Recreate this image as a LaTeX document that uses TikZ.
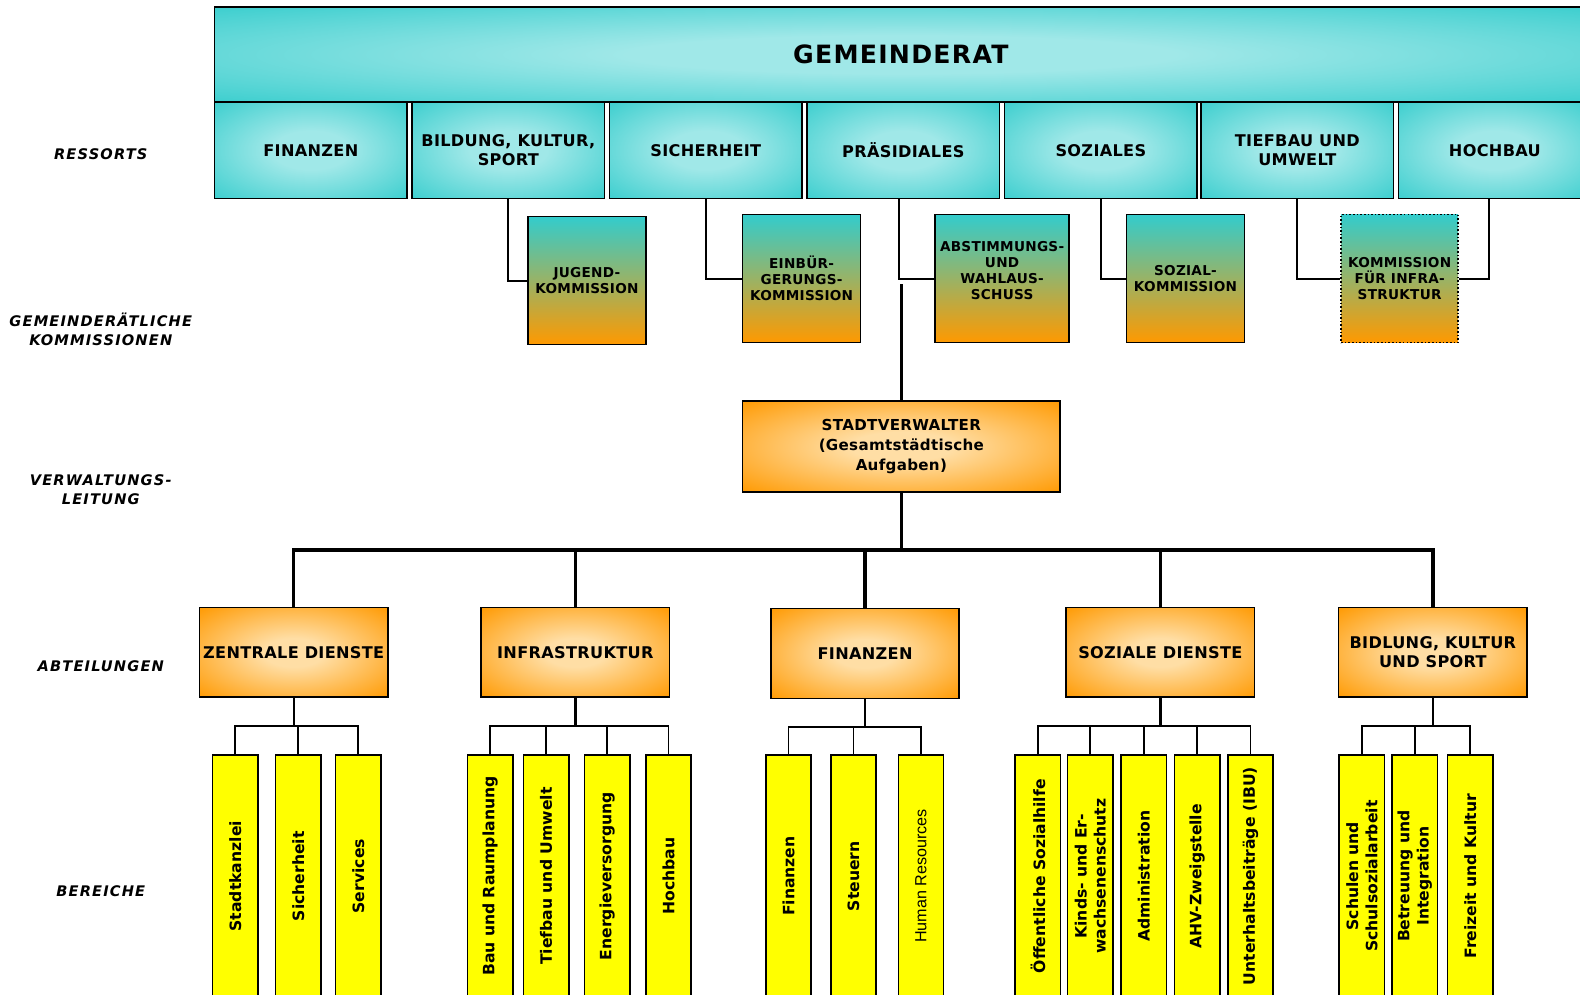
\documentclass[tikz,border=0pt]{standalone}
\usepackage{fontspec}
\setmainfont{Liberation Sans}
\newfontfamily\boxfont[LetterSpace=2]{DejaVu Sans}
\newfontfamily\titlefont[LetterSpace=5]{DejaVu Sans}
\newfontfamily\sidefont[LetterSpace=8]{DejaVu Sans}
\newfontfamily\barfont{DejaVu Sans}
\definecolor{tealbase}{RGB}{51,204,204}
\definecolor{tealhi}{RGB}{160,232,232}
\definecolor{orangebase}{RGB}{255,153,0}
\definecolor{orangehi}{RGB}{255,222,165}
\definecolor{kommmid}{RGB}{182,186,160}
\definecolor{barfill}{RGB}{255,255,0}
\pgfdeclareradialshading{tealglow}{\pgfpointorigin}{color(0bp)=(tealhi); color(10bp)=(tealhi); color(38bp)=(tealbase); color(50bp)=(tealbase)}
\pgfdeclareradialshading{orangeglow}{\pgfpointorigin}{color(0bp)=(orangehi); color(8bp)=(orangehi); color(36bp)=(orangebase); color(50bp)=(orangebase)}
\begin{document}
\begin{tikzpicture}%
	[x=1pt, y=-1pt,
	box/.style={draw=black, line width=1.6pt, align=center, inner sep=2pt},
	gemeinderat/.style={box, shade, shading=tealglow, minimum width=1362pt, minimum height=94pt, font=\titlefont\bfseries\fontsize{25}{30}\selectfont},
	ressort/.style={box, shade, shading=tealglow, minimum width=191pt, minimum height=96pt, font=\boxfont\bfseries\fontsize{16}{19}\selectfont},
	kommission/.style={box, top color=tealbase, middle color=kommmid, bottom color=orangebase, minimum width=117pt, minimum height=127pt, font=\boxfont\bfseries\fontsize{13.5}{16}\selectfont},
	leitung/.style={box, shade, shading=orangeglow, minimum width=315pt, minimum height=90pt, font=\boxfont\bfseries\fontsize{15}{19.5}\selectfont},
	abteilung/.style={box, shade, shading=orangeglow, minimum width=187pt, minimum height=89pt, font=\boxfont\bfseries\fontsize{16}{19}\selectfont},
	bereich/.style={draw=black, line width=1.6pt, fill=barfill, rotate=90, minimum width=241pt, minimum height=45pt, inner sep=1pt, align=center, font=\barfont\bfseries\fontsize{15.5}{19}\selectfont},
	side/.style={align=center, font=\sidefont\bfseries\itshape\fontsize{14.5}{19}\selectfont},
	link/.style={line width=1.8pt},
	trunk/.style={line width=3.5pt},
	stem/.style={line width=2.4pt},
	branch/.style={line width=1.7pt}]
%
\useasboundingbox (0,0) rectangle (1568,987);
%%
%% Drawing the row titles
%%
\node[side] (tres) at (100,153) {RESSORTS};
\node[side] (tkom) at (100,327) {GEMEINDERÄTLICHE\\KOMMISSIONEN};
\node[side] (tvl) at (100,486) {VERWALTUNGS-\\LEITUNG};
\node[side] (tabt) at (100,661) {ABTEILUNGEN};
\node[side] (tber) at (100,884) {BEREICHE};
%%
%% Drawing the Gemeinderat and the Ressorts
%%
\node[gemeinderat] (gr) at (894,54) {GEMEINDERAT};
\node[ressort] (r1) at (308.5,149) {FINANZEN};
\node[ressort] (r2) at (504.5,149) {BILDUNG, KULTUR,\\SPORT};
\node[ressort] (r3) at (700.5,149) {SICHERHEIT};
\node[ressort] (r4) at (896.5,149) {PRÄSIDIALES};
\node[ressort] (r5) at (1092.5,149) {SOZIALES};
\node[ressort] (r6) at (1287.5,149) {TIEFBAU UND\\UMWELT};
\node[ressort] (r7) at (1483.5,149) {HOCHBAU};
%%
%% Drawing the Kommissionen
%%
\node[kommission] (k1) at (582.5,278.5) {JUGEND-\\KOMMISSION};
\node[kommission] (k2) at (795.5,276.5) {EINBÜR-\\GERUNGS-\\KOMMISSION};
\node[kommission, minimum width=133pt] (k3) at (994.5,276.5) {ABSTIMMUNGS-\\UND\\WAHLAUS-\\SCHUSS\\ \mbox{}};
\node[kommission] (k4) at (1176.5,276.5) {SOZIAL-\\KOMMISSION};
\node[kommission, dotted, minimum width=116pt] (k5) at (1389,276.5) {KOMMISSION\\FÜR INFRA-\\STRUKTUR};
%
\draw[link] (r2.south) |- (k1.west);
\draw[link] (r3.south) |- (k2.west);
\draw[link] ([xshift=-4pt]r4.south) |- (k3.west);
\draw[link] (r5.south) |- (k4.west);
\draw[link] (r6.south) |- (k5.west);
\draw[link] ([xshift=-6pt]r7.south) |- (k5.east);
%%
%% Drawing the Verwaltungsleitung
%%
\node[leitung] (sv) at (894.5,443) {STADTVERWALTER\\(Gesamtstädtische\\Aufgaben)};
\draw[trunk] (sv.north) -- ([yshift=-5pt]sv.north |- k3.west);
%%
%% Drawing the Abteilungen
%%
\node[abteilung] (a1) at (291.5,647.5) {ZENTRALE DIENSTE};
\node[abteilung] (a2) at (571,647.5) {INFRASTRUKTUR};
\node[abteilung] (a3) at (858.5,648.5) {FINANZEN};
\node[abteilung] (a4) at (1151.5,647.5) {SOZIALE DIENSTE};
\node[abteilung] (a5) at (1422,647.5) {BIDLUNG, KULTUR\\UND SPORT};
%
\draw[trunk] (sv.south) -- ++(0,57) coordinate (hub);
\draw[trunk] (a1.north) |- (hub) -| (a5.north);
\draw[trunk] (a2.north) -- (a2.north |- hub);
\draw[trunk] (a3.north) -- (a3.north |- hub);
\draw[trunk] (a4.north) -- (a4.north |- hub);
%%
%% Drawing the Bereiche
%%
\node[bereich] (z1) at (233.5,869.5) {Stadtkanzlei};
\node[bereich] (z2) at (296,869.5) {Sicherheit};
\node[bereich] (z3) at (355.5,869.5) {Services};
%
\node[bereich] (i1) at (486.5,869.5) {Bau und Raumplanung};
\node[bereich] (i2) at (542,869.5) {Tiefbau und Umwelt};
\node[bereich] (i3) at (602.5,869.5) {Energieversorgung};
\node[bereich] (i4) at (663.5,869.5) {Hochbau};
%
\node[bereich] (f1) at (782.5,869.5) {Finanzen};
\node[bereich] (f2) at (847,869.5) {Steuern};
\node[bereich, font=\rmfamily\fontsize{16}{19}\selectfont] (f3) at (914,869.5) {Human Resources};
%
\node[bereich] (s1) at (1030,869.5) {Öffentliche Sozialhilfe};
\node[bereich] (s2) at (1082,869.5) {Kinds- und Er-\\wachsenenschutz};
\node[bereich] (s3) at (1135,869.5) {Administration};
\node[bereich] (s4) at (1188,869.5) {AHV-Zweigstelle};
\node[bereich] (s5) at (1241,869.5) {Unterhaltsbeiträge (IBU)};
%
\node[bereich] (b1) at (1351.5,869.5) {Schulen und\\Schulsozialarbeit};
\node[bereich] (b2) at (1404,869.5) {Betreuung und\\Integration};
\node[bereich] (b3) at (1459,869.5) {Freizeit und Kultur};
%%
%% Drawing the Bereich connectors
%%
\draw[stem] (a1.south) -- ++(0,28) coordinate (zb);
\draw[branch] (z1.east) |- (zb) -| (z3.east);
\draw[branch] (z2.east) -- (z2.east |- zb);
%
\draw[stem] (a2.south) -- ++(0,28) coordinate (ib);
\draw[branch] (i1.east) |- (ib) -| (i4.east);
\draw[branch] (i2.east) -- (i2.east |- ib);
\draw[branch] (i3.east) -- (i3.east |- ib);
%
\draw[stem] (a3.south) -- ++(0,28) coordinate (fb);
\draw[branch] (f1.east) |- (fb) -| (f3.east);
\draw[branch] (f2.east) -- (f2.east |- fb);
%
\draw[stem] (a4.south) -- ++(0,28) coordinate (sb);
\draw[branch] (s1.east) |- (sb) -| (s5.east);
\draw[branch] (s2.east) -- (s2.east |- sb);
\draw[branch] (s3.east) -- (s3.east |- sb);
\draw[branch] (s4.east) -- (s4.east |- sb);
%
\draw[stem] (a5.south) -- ++(0,28) coordinate (bb);
\draw[branch] (b1.east) |- (bb) -| (b3.east);
\draw[branch] (b2.east) -- (b2.east |- bb);

\end{tikzpicture}
\end{document}
